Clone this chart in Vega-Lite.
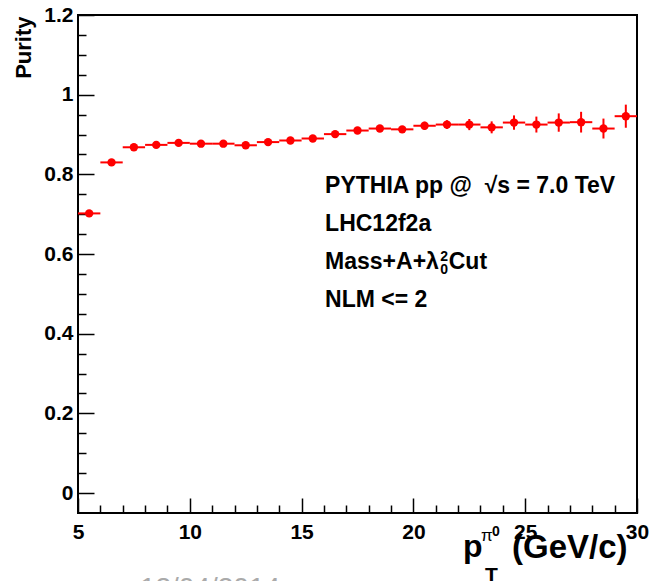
{
  "$schema": "https://vega.github.io/schema/vega-lite/v6.json",
  "width": 559,
  "height": 498,
  "autosize": {"type": "none"},
  "padding": {"left": 78, "top": 15, "right": 15, "bottom": 68},
  "background": "white",
  "config": {
    "view": {"stroke": "black", "strokeWidth": 2},
    "font": "Liberation Sans",
    "axis": {
      "domain": false, "grid": false,
      "labelFont": "Liberation Sans", "labelFontWeight": "bold", "labelColor": "black",
      "tickColor": "black", "tickWidth": 1.5,
      "titleFont": "Liberation Sans", "titleFontWeight": "bold", "titleColor": "black"
    },
    "text": {"font": "Liberation Sans", "fontWeight": "bold", "color": "black", "align": "left", "baseline": "alphabetic"}
  },
  "data": {"values": [
    {"pt": 5.5, "lo": 5, "hi": 6, "purity": 0.702, "err": 0.003},
    {"pt": 6.5, "lo": 6, "hi": 7, "purity": 0.830, "err": 0.003},
    {"pt": 7.5, "lo": 7, "hi": 8, "purity": 0.868, "err": 0.003},
    {"pt": 8.5, "lo": 8, "hi": 9, "purity": 0.874, "err": 0.003},
    {"pt": 9.5, "lo": 9, "hi": 10, "purity": 0.879, "err": 0.003},
    {"pt": 10.5, "lo": 10, "hi": 11, "purity": 0.877, "err": 0.004},
    {"pt": 11.5, "lo": 11, "hi": 12, "purity": 0.877, "err": 0.004},
    {"pt": 12.5, "lo": 12, "hi": 13, "purity": 0.873, "err": 0.004},
    {"pt": 13.5, "lo": 13, "hi": 14, "purity": 0.881, "err": 0.005},
    {"pt": 14.5, "lo": 14, "hi": 15, "purity": 0.885, "err": 0.005},
    {"pt": 15.5, "lo": 15, "hi": 16, "purity": 0.890, "err": 0.006},
    {"pt": 16.5, "lo": 16, "hi": 17, "purity": 0.901, "err": 0.006},
    {"pt": 17.5, "lo": 17, "hi": 18, "purity": 0.910, "err": 0.007},
    {"pt": 18.5, "lo": 18, "hi": 19, "purity": 0.915, "err": 0.008},
    {"pt": 19.5, "lo": 19, "hi": 20, "purity": 0.913, "err": 0.008},
    {"pt": 20.5, "lo": 20, "hi": 21, "purity": 0.922, "err": 0.010},
    {"pt": 21.5, "lo": 21, "hi": 22, "purity": 0.925, "err": 0.011},
    {"pt": 22.5, "lo": 22, "hi": 23, "purity": 0.925, "err": 0.014},
    {"pt": 23.5, "lo": 23, "hi": 24, "purity": 0.918, "err": 0.015},
    {"pt": 24.5, "lo": 24, "hi": 25, "purity": 0.930, "err": 0.018},
    {"pt": 25.5, "lo": 25, "hi": 26, "purity": 0.925, "err": 0.020},
    {"pt": 26.5, "lo": 26, "hi": 27, "purity": 0.930, "err": 0.023},
    {"pt": 27.5, "lo": 27, "hi": 28, "purity": 0.931, "err": 0.026},
    {"pt": 28.5, "lo": 28, "hi": 29, "purity": 0.915, "err": 0.025},
    {"pt": 29.5, "lo": 29, "hi": 30, "purity": 0.946, "err": 0.029}
  ]},
  "resolve": {"axis": {"x": "independent", "y": "independent"}},
  "layer": [
    {
      "mark": {"type": "rule", "color": "#ff0000", "strokeWidth": 2},
      "encoding": {
        "x": {"field": "lo", "type": "quantitative", "scale": {"domain": [5, 30], "nice": false, "zero": false},
          "axis": {"orient": "bottom", "values": [5, 10, 15, 20, 25, 30], "ticks": false, "labelPadding": 8, "labelFontSize": 21, "labelFlush": false, "labelOverlap": false, "title": null}},
        "x2": {"field": "hi"},
        "y": {"field": "purity", "type": "quantitative", "scale": {"domain": [-0.05, 1.2], "nice": false, "zero": false},
          "axis": {"orient": "left", "values": [0, 0.2, 0.4, 0.6, 0.8, 1, 1.2], "format": ".1~f", "ticks": false, "labelPadding": 5, "labelFontSize": 21, "labelFlush": false, "labelOverlap": false,
            "title": "Purity", "titleFontSize": 22, "titleAngle": 270, "titleAlign": "right", "titleBaseline": "alphabetic", "titleAnchor": "end", "titleX": -48, "titleY": 1}}
      }
    },
    {
      "mark": {"type": "errorbar", "color": "#ff0000", "thickness": 2},
      "encoding": {
        "x": {"field": "pt", "type": "quantitative", "scale": {"domain": [5, 30], "nice": false, "zero": false},
          "axis": {"orient": "bottom", "values": [5, 10, 15, 20, 25, 30], "tickSize": -15, "labels": false, "title": null}},
        "y": {"field": "purity", "type": "quantitative", "scale": {"domain": [-0.05, 1.2], "nice": false, "zero": false},
          "axis": {"orient": "left", "values": [0, 0.2, 0.4, 0.6, 0.8, 1, 1.2], "tickSize": -16, "labels": false, "title": null}},
        "yError": {"field": "err"}
      }
    },
    {
      "mark": {"type": "circle", "color": "#ff0000", "size": 70, "opacity": 1},
      "encoding": {
        "x": {"field": "pt", "type": "quantitative", "scale": {"domain": [5, 30], "nice": false, "zero": false},
          "axis": {"orient": "bottom", "values": [6, 7, 8, 9, 11, 12, 13, 14, 16, 17, 18, 19, 21, 22, 23, 24, 26, 27, 28, 29], "tickSize": -8, "labels": false, "title": null}},
        "y": {"field": "purity", "type": "quantitative", "scale": {"domain": [-0.05, 1.2], "nice": false, "zero": false},
          "axis": {"orient": "left", "values": [0.05, 0.1, 0.15, 0.25, 0.3, 0.35, 0.45, 0.5, 0.55, 0.65, 0.7, 0.75, 0.85, 0.9, 0.95, 1.05, 1.1, 1.15], "tickSize": -8, "labels": false, "title": null}}
      }
    },
    {
      "data": {"values": [{}]},
      "mark": {"type": "text", "text": "PYTHIA pp @\u00a0\u00a0√s = 7.0 TeV", "fontSize": 23},
      "encoding": {
        "x": {"datum": 16.05, "type": "quantitative", "scale": {"domain": [5, 30], "nice": false, "zero": false}, "axis": null},
        "y": {"datum": 0.7538, "type": "quantitative", "scale": {"domain": [-0.05, 1.2], "nice": false, "zero": false}, "axis": null}
      }
    },
    {
      "data": {"values": [{}]},
      "mark": {"type": "text", "text": "LHC12f2a", "fontSize": 23},
      "encoding": {
        "x": {"datum": 16.05, "type": "quantitative", "scale": {"domain": [5, 30], "nice": false, "zero": false}, "axis": null},
        "y": {"datum": 0.6583, "type": "quantitative", "scale": {"domain": [-0.05, 1.2], "nice": false, "zero": false}, "axis": null}
      }
    },
    {
      "data": {"values": [{}]},
      "mark": {"type": "text", "text": "Mass+A+λ", "fontSize": 23},
      "encoding": {
        "x": {"datum": 16.05, "type": "quantitative", "scale": {"domain": [5, 30], "nice": false, "zero": false}, "axis": null},
        "y": {"datum": 0.5628, "type": "quantitative", "scale": {"domain": [-0.05, 1.2], "nice": false, "zero": false}, "axis": null}
      }
    },
    {
      "data": {"values": [{}]},
      "mark": {"type": "text", "text": "2", "fontSize": 14},
      "encoding": {
        "x": {"datum": 21.2, "type": "quantitative", "scale": {"domain": [5, 30], "nice": false, "zero": false}, "axis": null},
        "y": {"datum": 0.5829, "type": "quantitative", "scale": {"domain": [-0.05, 1.2], "nice": false, "zero": false}, "axis": null}
      }
    },
    {
      "data": {"values": [{}]},
      "mark": {"type": "text", "text": "0", "fontSize": 14},
      "encoding": {
        "x": {"datum": 21.2, "type": "quantitative", "scale": {"domain": [5, 30], "nice": false, "zero": false}, "axis": null},
        "y": {"datum": 0.5493, "type": "quantitative", "scale": {"domain": [-0.05, 1.2], "nice": false, "zero": false}, "axis": null}
      }
    },
    {
      "data": {"values": [{}]},
      "mark": {"type": "text", "text": "Cut", "fontSize": 23},
      "encoding": {
        "x": {"datum": 21.58, "type": "quantitative", "scale": {"domain": [5, 30], "nice": false, "zero": false}, "axis": null},
        "y": {"datum": 0.5628, "type": "quantitative", "scale": {"domain": [-0.05, 1.2], "nice": false, "zero": false}, "axis": null}
      }
    },
    {
      "data": {"values": [{}]},
      "mark": {"type": "text", "text": "NLM <= 2", "fontSize": 23},
      "encoding": {
        "x": {"datum": 16.05, "type": "quantitative", "scale": {"domain": [5, 30], "nice": false, "zero": false}, "axis": null},
        "y": {"datum": 0.4673, "type": "quantitative", "scale": {"domain": [-0.05, 1.2], "nice": false, "zero": false}, "axis": null}
      }
    },
    {
      "data": {"values": [{}]},
      "mark": {"type": "text", "text": "p", "fontSize": 32},
      "encoding": {
        "x": {"datum": 22.22, "type": "quantitative", "scale": {"domain": [5, 30], "nice": false, "zero": false}, "axis": null},
        "y": {"datum": -0.1606, "type": "quantitative", "scale": {"domain": [-0.05, 1.2], "nice": false, "zero": false}, "axis": null}
      }
    },
    {
      "data": {"values": [{}]},
      "mark": {"type": "text", "text": "T", "fontSize": 21},
      "encoding": {
        "x": {"datum": 23.2, "type": "quantitative", "scale": {"domain": [5, 30], "nice": false, "zero": false}, "axis": null},
        "y": {"datum": -0.2234, "type": "quantitative", "scale": {"domain": [-0.05, 1.2], "nice": false, "zero": false}, "axis": null}
      }
    },
    {
      "data": {"values": [{}]},
      "mark": {"type": "text", "text": "π", "fontSize": 17, "fontWeight": "normal"},
      "encoding": {
        "x": {"datum": 23.02, "type": "quantitative", "scale": {"domain": [5, 30], "nice": false, "zero": false}, "axis": null},
        "y": {"datum": -0.1204, "type": "quantitative", "scale": {"domain": [-0.05, 1.2], "nice": false, "zero": false}, "axis": null}
      }
    },
    {
      "data": {"values": [{}]},
      "mark": {"type": "text", "text": "0", "fontSize": 14},
      "encoding": {
        "x": {"datum": 23.52, "type": "quantitative", "scale": {"domain": [5, 30], "nice": false, "zero": false}, "axis": null},
        "y": {"datum": -0.1078, "type": "quantitative", "scale": {"domain": [-0.05, 1.2], "nice": false, "zero": false}, "axis": null}
      }
    },
    {
      "data": {"values": [{}]},
      "mark": {"type": "text", "text": "(GeV/c)", "fontSize": 33},
      "encoding": {
        "x": {"datum": 24.41, "type": "quantitative", "scale": {"domain": [5, 30], "nice": false, "zero": false}, "axis": null},
        "y": {"datum": -0.163, "type": "quantitative", "scale": {"domain": [-0.05, 1.2], "nice": false, "zero": false}, "axis": null}
      }
    },
    {
      "data": {"values": [{}]},
      "mark": {"type": "text", "text": "12/04/2014", "fontSize": 28, "fontWeight": "normal", "color": "#aaaaaa"},
      "encoding": {
        "x": {"datum": 7.77, "type": "quantitative", "scale": {"domain": [5, 30], "nice": false, "zero": false}, "axis": null},
        "y": {"datum": -0.261, "type": "quantitative", "scale": {"domain": [-0.05, 1.2], "nice": false, "zero": false}, "axis": null}
      }
    }
  ]
}
